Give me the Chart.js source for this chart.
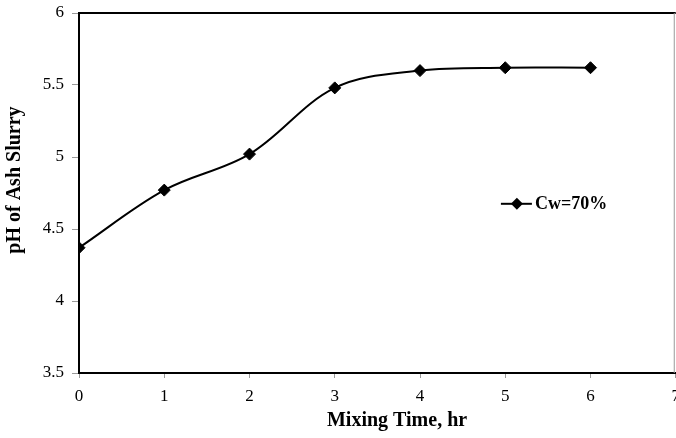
<!DOCTYPE html>
<html>
<head>
<meta charset="utf-8">
<script src="https://cdn.jsdelivr.net/npm/chart.js@4/dist/chart.umd.min.js"></script>
<style>
  html, body { margin: 0; padding: 0; background: #fff; overflow: hidden; }
  #wrap { width: 676px; height: 438px; overflow: hidden; }
</style>
</head>
<body>
<div id="wrap"><canvas id="c" width="688" height="438"></canvas></div>
<script>
// Mixing time (hr) and measured pH of the ash slurry
const mixingTime = [0, 1, 2, 3, 4, 5, 6];
const slurryPH = [4.37, 4.77, 5.02, 5.48, 5.60, 5.62, 5.62];
const seriesLabel = 'Cw=70%';
const xTitle = 'Mixing Time, hr';
const yTitle = 'pH of Ash Slurry';

const SERIF = '"Liberation Serif", "Times New Roman", serif';

// Top and right frame lines of the plot box
const frame = {
  id: 'frame',
  afterDatasetsDraw(chart) {
    const { ctx, chartArea: a } = chart;
    ctx.save();
    ctx.strokeStyle = '#000';
    ctx.lineWidth = 2;
    ctx.beginPath();
    ctx.moveTo(a.left, a.top);
    ctx.lineTo(a.right, a.top);
    ctx.stroke();
    ctx.strokeStyle = '#999';
    ctx.lineWidth = 1;
    ctx.beginPath();
    ctx.moveTo(a.right - 1.5, a.top);
    ctx.lineTo(a.right - 1.5, a.bottom);
    ctx.stroke();
    ctx.restore();
  }
};

// Axis titles placed relative to the plot box
const axisTitles = {
  id: 'axisTitles',
  afterDraw(chart) {
    const { ctx, chartArea: a } = chart;
    ctx.save();
    ctx.fillStyle = '#000';
    ctx.font = 'bold 20px ' + SERIF;
    ctx.textAlign = 'center';
    ctx.textBaseline = 'middle';
    ctx.fillText(xTitle, a.left + (a.right - a.left) * 0.533, a.bottom + 48);
    ctx.translate(15, a.top + (a.bottom - a.top) * 0.464);
    ctx.rotate(-Math.PI / 2);
    ctx.fillText(yTitle, 0, 0);
    ctx.restore();
  }
};

// Legend entry inside the plot: line with diamond marker and label
const insideLegend = {
  id: 'insideLegend',
  afterDraw(chart) {
    const { ctx, chartArea: a } = chart;
    const ds = chart.data.datasets[0];
    const x0 = a.left + (a.right - a.left) * 0.707;
    const y0 = a.top + (a.bottom - a.top) * 0.53;
    ctx.save();
    ctx.strokeStyle = '#000';
    ctx.lineWidth = 2;
    ctx.beginPath();
    ctx.moveTo(x0, y0);
    ctx.lineTo(x0 + 31, y0);
    ctx.stroke();
    const cx = x0 + 16, r = 6;
    ctx.fillStyle = '#000';
    ctx.beginPath();
    ctx.moveTo(cx - r, y0);
    ctx.lineTo(cx, y0 - r);
    ctx.lineTo(cx + r, y0);
    ctx.lineTo(cx, y0 + r);
    ctx.closePath();
    ctx.fill();
    ctx.font = 'bold 18px ' + SERIF;
    ctx.textAlign = 'left';
    ctx.textBaseline = 'middle';
    ctx.fillText(ds.label, x0 + 34, y0 + 1);
    ctx.restore();
  }
};

const plainNumber = v => String(Math.round(v * 10) / 10);

new Chart(document.getElementById('c'), {
  type: 'line',
  data: {
    datasets: [{
      label: seriesLabel,
      data: mixingTime.map((t, i) => ({ x: t, y: slurryPH[i] })),
      borderColor: '#000',
      backgroundColor: '#000',
      borderWidth: 2,
      tension: 0.35,
      pointStyle: 'rectRot',
      pointRadius: 6,
      pointBorderWidth: 1,
      pointBackgroundColor: '#000',
      pointBorderColor: '#000',
      fill: false
    }]
  },
  options: {
    responsive: false,
    animation: false,
    events: [],
    layout: { padding: { top: 13, left: 0, right: 0, bottom: 0 } },
    plugins: {
      legend: { display: false },
      tooltip: { enabled: false }
    },
    scales: {
      x: {
        type: 'linear',
        min: 0,
        max: 7,
        ticks: {
          stepSize: 1,
          color: '#000',
          font: { family: SERIF, size: 17 },
          padding: 8,
          maxRotation: 0,
          callback: plainNumber
        },
        grid: {
          drawOnChartArea: false,
          drawTicks: true,
          tickLength: 5,
          color: '#999'
        },
        border: { color: '#000', width: 2 },
        afterFit(s) { s.height = 65; }
      },
      y: {
        min: 3.5,
        max: 6,
        ticks: {
          stepSize: 0.5,
          color: '#000',
          font: { family: SERIF, size: 17 },
          padding: 8,
          callback: plainNumber
        },
        grid: {
          drawOnChartArea: false,
          drawTicks: true,
          tickLength: 7,
          color: '#999'
        },
        border: { color: '#000', width: 2 },
        afterFit(s) { s.width = 79; s.paddingTop = 0; s.paddingBottom = 0; }
      }
    }
  },
  plugins: [frame, axisTitles, insideLegend]
});
</script>
</body>
</html>
